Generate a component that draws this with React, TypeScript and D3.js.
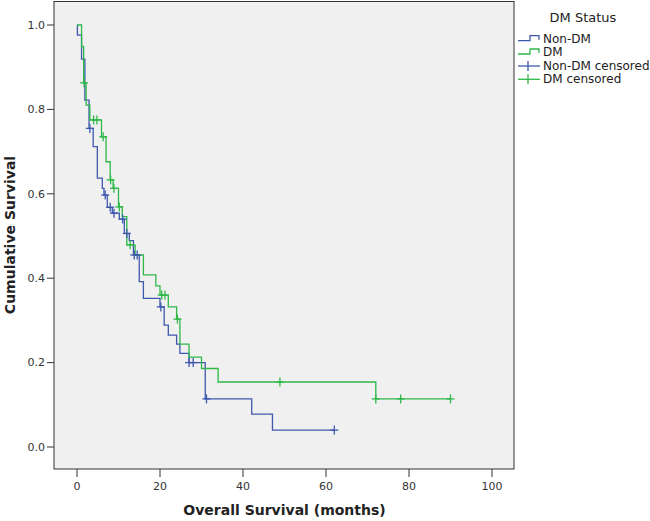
import React from "react";
import * as d3 from "d3";

// Non-DM: step times and survival after each drop
const nonDmTimes = [0, 0.1, 1.1, 1.9, 2.9, 3.9, 4.9, 6.1, 6.5, 7.3, 8.5, 10.2, 11.4, 12.6, 13.6, 15.0, 16.0, 20.0, 21.0, 22.0, 24.0, 24.8, 27.0, 30.9, 42.1, 47.1, 62.0];
const nonDmSurv = [1.0, 0.976, 0.919, 0.822, 0.755, 0.712, 0.637, 0.613, 0.597, 0.568, 0.554, 0.54, 0.506, 0.489, 0.455, 0.392, 0.352, 0.332, 0.289, 0.265, 0.244, 0.222, 0.2, 0.114, 0.078, 0.04, 0.04];
const nonDmCensorTimes = [3.1, 6.8, 8.0, 8.9, 11.0, 12.0, 13.8, 14.5, 20.2, 27.0, 28.0, 31.2, 62.0];
const nonDmCensorSurv = [0.755, 0.597, 0.568, 0.554, 0.54, 0.506, 0.455, 0.455, 0.332, 0.2, 0.2, 0.114, 0.04];

// DM
const dmTimes = [0, 1.1, 1.6, 2.2, 3.1, 5.9, 7.0, 8.0, 8.7, 10.0, 10.9, 12.0, 14.0, 16.0, 19.0, 20.0, 22.0, 24.0, 24.8, 27.0, 30.0, 34.0, 72.0, 90.0];
const dmSurv = [1.0, 0.949, 0.863, 0.81, 0.775, 0.735, 0.676, 0.633, 0.613, 0.569, 0.546, 0.479, 0.455, 0.408, 0.382, 0.36, 0.332, 0.303, 0.244, 0.213, 0.186, 0.154, 0.114, 0.114];
const dmCensorTimes = [1.7, 4.0, 4.8, 6.3, 8.1, 8.9, 10.2, 12.8, 20.4, 21.2, 24.2, 48.9, 72.0, 78.0, 90.0];
const dmCensorSurv = [0.863, 0.775, 0.775, 0.735, 0.633, 0.613, 0.569, 0.479, 0.36, 0.36, 0.303, 0.154, 0.114, 0.114, 0.114];

const xTicks = [0, 20, 40, 60, 80, 100];
const yTicks = [0, 0.2, 0.4, 0.6, 0.8, 1.0];

const legendTitle = "DM Status";
const legendLabels = ["Non-DM", "DM", "Non-DM censored", "DM censored"];

const BLUE = "#3e58ac";
const GREEN = "#2eb848";
const FONT = "'DejaVu Sans', sans-serif";

export default function App() {
  const W = 650, H = 521;
  const frame = { left: 54, top: 1.5, right: 514, bottom: 469 };
  const x = d3.scaleLinear().domain([0, 100]).range([77, 492]);
  const y = d3.scaleLinear().domain([0, 1]).range([447, 25]);

  const line = d3
    .line<[number, number]>()
    .x((d) => x(d[0]))
    .y((d) => y(d[1]))
    .curve(d3.curveStepAfter);

  const nonDmPts = nonDmTimes.map((t, i) => [t, nonDmSurv[i]] as [number, number]);
  const dmPts = dmTimes.map((t, i) => [t, dmSurv[i]] as [number, number]);

  const cross = (cx: number, cy: number, color: string, key: string) => (
    <g key={key} stroke={color} strokeWidth={1.3}>
      <line x1={cx - 4} x2={cx + 4} y1={cy} y2={cy} />
      <line x1={cx} x2={cx} y1={cy - 4.5} y2={cy + 4.5} />
    </g>
  );

  const legX = 518;
  const legY = [42.7, 56, 70, 83.3];

  return (
    <svg
      width={W}
      height={H}
      style={{ position: "absolute", left: 0, top: 0, background: "#fff" }}
      fontFamily={FONT}
    >
      <rect
        x={frame.left}
        y={frame.top}
        width={frame.right - frame.left}
        height={frame.bottom - frame.top}
        fill="#f0f0f0"
        stroke="#333"
        strokeWidth={1}
      />
      {/* y axis ticks */}
      {yTicks.map((v) => (
        <g key={"y" + v}>
          <line x1={frame.left - 7} x2={frame.left} y1={y(v)} y2={y(v)} stroke="#333" strokeWidth={1} />
          <text x={45} y={y(v)} dy="0.35em" textAnchor="end" fontSize={11} fill="#333">
            {v.toFixed(1)}
          </text>
        </g>
      ))}
      {/* x axis ticks */}
      {xTicks.map((v) => (
        <g key={"x" + v}>
          <line x1={x(v)} x2={x(v)} y1={frame.bottom} y2={frame.bottom + 8} stroke="#333" strokeWidth={1} />
          <text x={x(v)} y={489.5} textAnchor="middle" fontSize={11} fill="#333">
            {v}
          </text>
        </g>
      ))}
      <text x={284.5} y={515} textAnchor="middle" fontSize={14} fontWeight="bold" fill="#222">
        Overall Survival (months)
      </text>
      <text
        transform={`translate(15,235) rotate(-90)`}
        textAnchor="middle"
        fontSize={14}
        fontWeight="bold"
        fill="#222"
      >
        Cumulative Survival
      </text>

      {/* curves */}
      <path d={line(nonDmPts) || ""} fill="none" stroke={BLUE} strokeWidth={1.3} />
      <path d={line(dmPts) || ""} fill="none" stroke={GREEN} strokeWidth={1.3} />
      {nonDmCensorTimes.map((t, i) => cross(x(t), y(nonDmCensorSurv[i]), BLUE, "nc" + i))}
      {dmCensorTimes.map((t, i) => cross(x(t), y(dmCensorSurv[i]), GREEN, "dc" + i))}

      {/* legend */}
      <text x={583} y={21.7} textAnchor="middle" fontSize={13} fill="#222">
        {legendTitle}
      </text>
      {[BLUE, GREEN].map((c, i) => (
        <path
          key={"ls" + i}
          d={`M${legX},${legY[i] - 2} H${legX + 12} V${legY[i] - 7} H${legX + 21} V${legY[i] - 3}`}
          fill="none"
          stroke={c}
          strokeWidth={1.3}
        />
      ))}
      {[BLUE, GREEN].map((c, i) => (
        <g key={"lc" + i} stroke={c} strokeWidth={1.3}>
          <line x1={legX} x2={legX + 22} y1={legY[i + 2] - 4} y2={legY[i + 2] - 4} />
          <line x1={legX + 10} x2={legX + 10} y1={legY[i + 2] - 9} y2={legY[i + 2] + 1} />
        </g>
      ))}
      {legendLabels.map((l, i) => (
        <text key={"lt" + i} x={543} y={legY[i]} fontSize={12} fill="#222">
          {l}
        </text>
      ))}
    </svg>
  );
}
